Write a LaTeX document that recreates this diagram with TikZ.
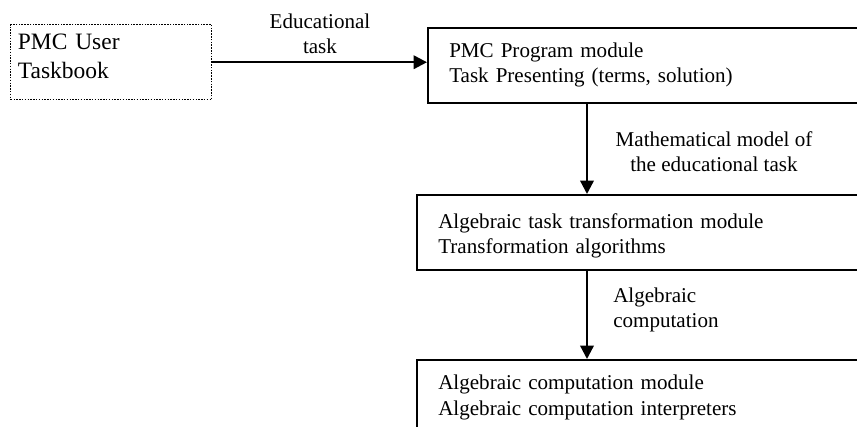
\documentclass[tikz,border=0pt]{standalone}
\usepackage{fontspec}
\setmainfont{Liberation Serif}
\usetikzlibrary{arrows.meta}
\tikzset{
  px/.style={x=0.75pt,y=-0.75pt},
  modbox/.style={draw,line width=1.4pt,rectangle,minimum height=56.25pt,
    inner xsep=15.75pt,inner ysep=0pt,align=left,anchor=north west,
    font=\fontsize{15.8}{18.8}\selectfont},
  userbox/.style={draw,line width=1.1pt,densely dotted,rectangle,minimum height=56.25pt,
    inner xsep=2.5pt,inner ysep=0pt,align=left,anchor=north west,
    font=\fontsize{17.6}{21.5}\selectfont},
  flowlbl/.style={font=\fontsize{15.8}{18.8}\selectfont,inner sep=0pt},
  arr/.style={line width=1.8pt,-{Triangle[length=10pt,width=10pt]}}
}
\begin{document}
\begin{tikzpicture}[px]
  \useasboundingbox (0,0) rectangle (857,427);
  \clip (0,0) rectangle (857,427);

  % modules
  \node[userbox,text width=140pt,minimum width=150.75pt,text depth=30pt] (user) at (10,24)
    {PMC User\\Taskbook};
  \node[modbox,text width=300pt,minimum width=332pt] (prog) at (427,27)
    {PMC Program module\\Task Presenting (terms, solution)};
  \node[modbox,text width=310pt,minimum width=342pt,text depth=17pt] (alg) at (416,194)
    {Algebraic task transformation module\\Transformation algorithms};
  \node[modbox,text width=310pt,minimum width=342pt] (comp) at (416,359)
    {Algebraic computation module\\Algebraic computation interpreters};

  % flow between modules
  \coordinate (mx) at (587,0);
  \draw[arr] (user.east) -- (user.east -| prog.west);
  \draw[arr] (prog.south -| mx) -- (alg.north -| mx);
  \draw[arr] (alg.south -| mx) -- (comp.north -| mx);

  % flow labels
  \node[flowlbl,align=center] (l1) at (320,34) {Educational\\task};
  \node[flowlbl,align=center] (l2) at (714,152) {Mathematical model of\\the educational task};
  \node[flowlbl,align=left,anchor=west] (l3) at (613,310) {Algebraic\\computation};
\end{tikzpicture}
\end{document}
